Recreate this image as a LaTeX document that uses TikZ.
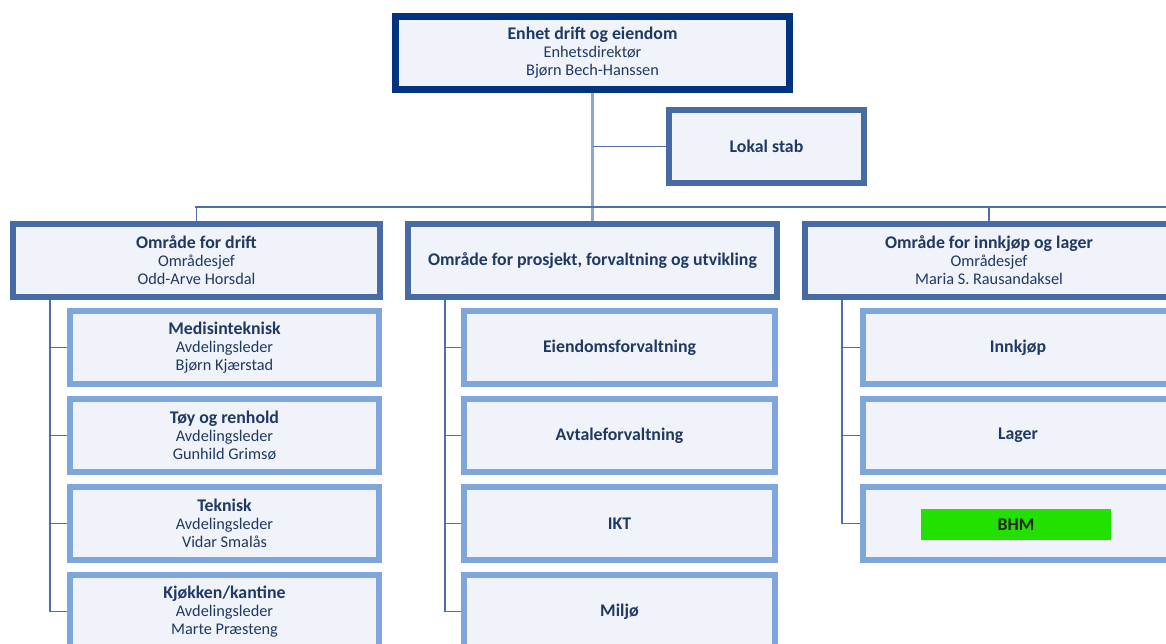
\documentclass[tikz,border=0pt]{standalone}
\usepackage{fontspec}
\setmainfont{Carlito}
\usetikzlibrary{backgrounds}
\definecolor{navy}{RGB}{0,51,128}
\definecolor{midb}{RGB}{72,106,165}
\definecolor{lightb}{RGB}{127,166,220}
\definecolor{boxfill}{RGB}{240,244,250}
\definecolor{txt}{RGB}{31,56,100}
\definecolor{linec}{RGB}{80,110,170}
\definecolor{toplinec}{RGB}{140,166,207}
\definecolor{bhmgreen}{RGB}{34,224,0}
\tikzset{
  basebox/.style={draw, fill=boxfill, rectangle, inner sep=0pt, align=center, text=txt,
     font=\fontsize{16.3}{18}\selectfont},
  topbox/.style={basebox, draw=navy, line width=7pt, minimum width=394pt, minimum height=73pt},
  stabbox/.style={basebox, draw=midb, line width=6pt, minimum width=195pt, minimum height=73pt},
  areabox/.style={basebox, draw=midb, line width=6pt, minimum height=73pt},
  unitbox/.style={basebox, draw=lightb, line width=6pt, minimum height=73pt},
  conn/.style={draw=linec, line width=1.6pt},
  topconn/.style={draw=toplinec, line width=3pt}
}
\newcommand{\hd}[1]{{\fontsize{17.8}{18}\selectfont\bfseries #1}}
\begin{document}
\begin{tikzpicture}[x=1pt,y=-1pt]
\useasboundingbox (0,0) rectangle (1166,643);
\clip (0,0) rectangle (1166,643);
% top
\node[topbox] (top) at (592.5,53) {\hd{Enhet drift og eiendom}\\Enhetsdirektør\\Bjørn Bech-Hanssen};
\node[stabbox] (stab) at (766.5,146.5) {\hd{Lokal stab}};
% areas
\node[areabox, minimum width=367pt] (drift) at (196.5,260.5) {\hd{Område for drift}\\Områdesjef\\Odd-Arve Horsdal};
\node[areabox, minimum width=369pt] (pfu) at (592.5,260.5) {\hd{Område for prosjekt, forvaltning og utvikling}};
\node[areabox, minimum width=368pt] (inn) at (989,260.5) {\hd{Område for innkjøp og lager}\\Områdesjef\\Maria S. Rausandaksel};
% left units
\node[unitbox, minimum width=309pt] (l1) at (224.5,347.5) {\hd{Medisinteknisk}\\Avdelingsleder\\Bjørn Kjærstad};
\node[unitbox, minimum width=309pt] (l2) at (224.5,435.5) {\hd{Tøy og renhold}\\Avdelingsleder\\Gunhild Grimsø};
\node[unitbox, minimum width=309pt] (l3) at (224.5,523.5) {\hd{Teknisk}\\Avdelingsleder\\Vidar Smalås};
\node[unitbox, minimum width=309pt] (l4) at (224.5,611.5) {\hd{Kjøkken/kantine}\\Avdelingsleder\\Marte Præsteng};
% middle units
\node[unitbox, minimum width=311pt] (m1) at (619.5,347.5) {\hd{Eiendomsforvaltning}};
\node[unitbox, minimum width=311pt] (m2) at (619.5,435.5) {\hd{Avtaleforvaltning}};
\node[unitbox, minimum width=311pt] (m3) at (619.5,523.5) {\hd{IKT}};
\node[unitbox, minimum width=311pt] (m4) at (619.5,611.5) {\hd{Miljø}};
% right units
\node[unitbox, minimum width=310pt] (r1) at (1018,347.5) {\hd{Innkjøp}};
\node[unitbox, minimum width=310pt] (r2) at (1018,435.5) {\hd{Lager}};
\node[unitbox, minimum width=310pt] (r3) at (1018,523.5) {};
\node[fill=bhmgreen, minimum width=190pt, minimum height=31pt, inner sep=0pt, text={black!85}] (bhm) at (1016,524.5) {\hd{BHM}};
% connector coordinates
\coordinate (busL) at (195,207);
\coordinate (busR) at (1166,207);
\coordinate (stabj) at (592.5,146.5);
\coordinate (cL) at (50,0);
\coordinate (cM) at (445,0);
\coordinate (cR) at (842,0);
\begin{scope}[on background layer]
\draw[topconn] (top.south) -- (pfu.north);
\draw[conn] (stabj) -- (stab.west);
\draw[conn] (busL) -- (busR);
\draw[conn] (drift.north) -- (drift.north |- busL);
\draw[conn] (inn.north) -- (inn.north |- busL);
\draw[conn] (drift.south -| cL) -- (cL |- l4.west);
\foreach \n in {l1,l2,l3,l4} \draw[conn] (cL |- \n.west) -- (\n.west);
\draw[conn] (pfu.south -| cM) -- (cM |- m4.west);
\foreach \n in {m1,m2,m3,m4} \draw[conn] (cM |- \n.west) -- (\n.west);
\draw[conn] (inn.south -| cR) -- (cR |- r3.west);
\foreach \n in {r1,r2,r3} \draw[conn] (cR |- \n.west) -- (\n.west);
\end{scope}
\end{tikzpicture}
\end{document}
